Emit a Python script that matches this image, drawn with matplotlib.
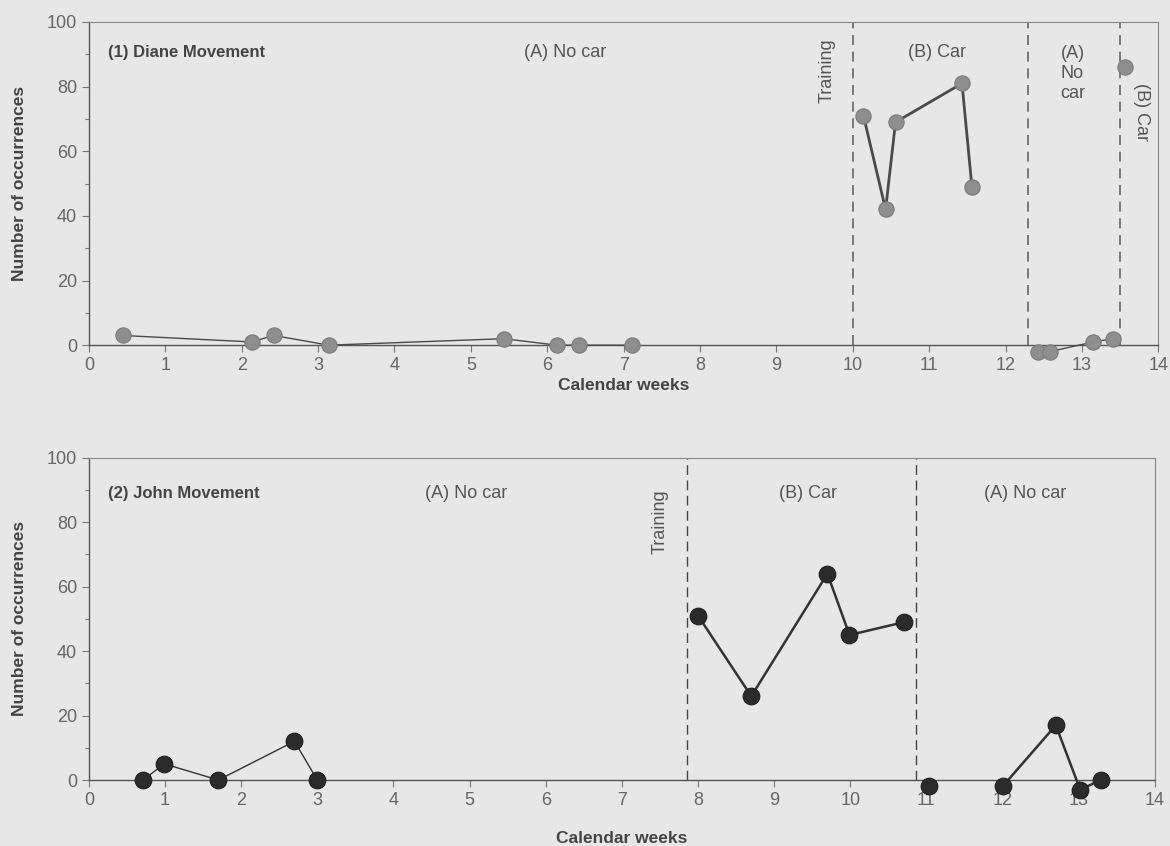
import matplotlib
matplotlib.use("Agg")
import matplotlib.pyplot as plt
from matplotlib.ticker import MultipleLocator

plt.rcParams['font.family'] = ['Liberation Sans', 'DejaVu Sans']

# Diane (panel 1), grouped by phase
diane_a1_x = [0.44, 2.13, 2.42, 3.14, 5.43, 6.13, 6.42, 7.11]
diane_a1_y = [3, 1, 3, 0, 2, 0, 0, 0]
diane_b1_x = [10.14, 10.43, 10.56, 11.43, 11.56]
diane_b1_y = [71, 42, 69, 81, 49]
diane_a2_x = [12.42, 12.58, 13.15, 13.41]
diane_a2_y = [-2, -2, 1, 2]
diane_b2_x = [13.56]
diane_b2_y = [86]
diane_phase_lines = [10.0, 12.3, 13.5]

# John (panel 2)
john_a1_x = [0.71, 0.99, 1.70, 2.70, 3.00]
john_a1_y = [0, 5, 0, 12, 0]
john_b1_x = [8.0, 8.7, 9.7, 9.99, 10.71]
john_b1_y = [51, 26, 64, 45, 49]
john_a2_x = [11.03]
john_a2_y = [-2]
john_a3_x = [12.0, 12.7, 13.02, 13.29]
john_a3_y = [-2, 17, -3, 0]
john_phase_lines = [7.85, 10.87]

bg = '#e7e7e7'
txt = '#555555'
fig = plt.figure(figsize=(11.7, 8.46), dpi=100, facecolor=bg)
ax1 = fig.add_axes([0.076, 0.592, 0.914, 0.382])
ax2 = fig.add_axes([0.076, 0.078, 0.911, 0.381])


def style(ax, xpad):
    ax.set_facecolor(bg)
    ax.set_xlim(0, 14)
    ax.set_ylim(0, 100)
    ax.xaxis.set_major_locator(MultipleLocator(1))
    ax.yaxis.set_major_locator(MultipleLocator(20))
    ax.yaxis.set_minor_locator(MultipleLocator(10))
    ax.tick_params(axis='both', which='both', colors='#777777', labelcolor='#666666',
                   labelsize=13, direction='out', length=5, width=0.8)
    ax.tick_params(axis='y', which='minor', length=3)
    for s in ['left', 'bottom']:
        ax.spines[s].set_color('#555555')
        ax.spines[s].set_linewidth(1.0)
    for s in ['top', 'right']:
        ax.spines[s].set_color('#888888')
        ax.spines[s].set_linewidth(0.8)
    ax.set_xlabel('Calendar weeks', fontsize=12.5, fontweight='bold', color='#444444', labelpad=xpad)
    ax.set_ylabel('Number of occurrences', fontsize=12.5, fontweight='bold', color='#444444', labelpad=14)


style(ax1, 3)
style(ax2, 16)

# panel 1
dg = '#8e8e8e'
for xs, ys, lw in [(diane_a1_x, diane_a1_y, 1.0), (diane_b1_x, diane_b1_y, 2.0),
                   (diane_a2_x, diane_a2_y, 1.0), (diane_b2_x, diane_b2_y, 1.0)]:
    ax1.plot(xs, ys, color='#4a4a4a', lw=lw, marker='o', ms=11, mfc=dg, mec='#7a7a7a',
             mew=0.8, clip_on=False, zorder=3)
for xv in diane_phase_lines:
    ax1.axvline(xv, color='#666666', lw=1.2, ls=(0, (6, 4)))
ax1.text(0.25, 90.5, '(1) Diane Movement', fontsize=12, fontweight='bold', color='#444444', va='center')
ax1.text(6.24, 90.5, '(A) No car', fontsize=13, color=txt, ha='center', va='center')
ax1.text(9.66, 85, 'Training', fontsize=13, color=txt, rotation=90, ha='center', va='center')
ax1.text(11.1, 90.5, '(B) Car', fontsize=13, color=txt, ha='center', va='center')
ax1.text(12.72, 93, '(A)\nNo\ncar', fontsize=13, color=txt, ha='left', va='top', linespacing=1.25)
ax1.text(13.78, 72, '(B) Car', fontsize=13, color=txt, rotation=-90, ha='center', va='center')

# panel 2
for xs, ys, lw in [(john_a1_x, john_a1_y, 1.0), (john_b1_x, john_b1_y, 1.8),
                   (john_a2_x, john_a2_y, 1.0), (john_a3_x, john_a3_y, 1.8)]:
    ax2.plot(xs, ys, color='#333333', lw=lw, marker='o', ms=12, mfc='#2b2b2b', mec='#1e1e1e',
             mew=0.8, clip_on=False, zorder=3)
for xv in john_phase_lines:
    ax2.axvline(xv, color='#444444', lw=1.0, ls=(0, (7, 4)))
ax2.text(0.25, 89, '(2) John Movement', fontsize=12, fontweight='bold', color='#444444', va='center')
ax2.text(4.95, 89, '(A) No car', fontsize=13, color=txt, ha='center', va='center')
ax2.text(7.5, 80, 'Training', fontsize=13, color=txt, rotation=90, ha='center', va='center')
ax2.text(9.45, 89, '(B) Car', fontsize=13, color=txt, ha='center', va='center')
ax2.text(12.3, 89, '(A) No car', fontsize=13, color=txt, ha='center', va='center')

fig.savefig('out.png', dpi=100, facecolor=bg)
